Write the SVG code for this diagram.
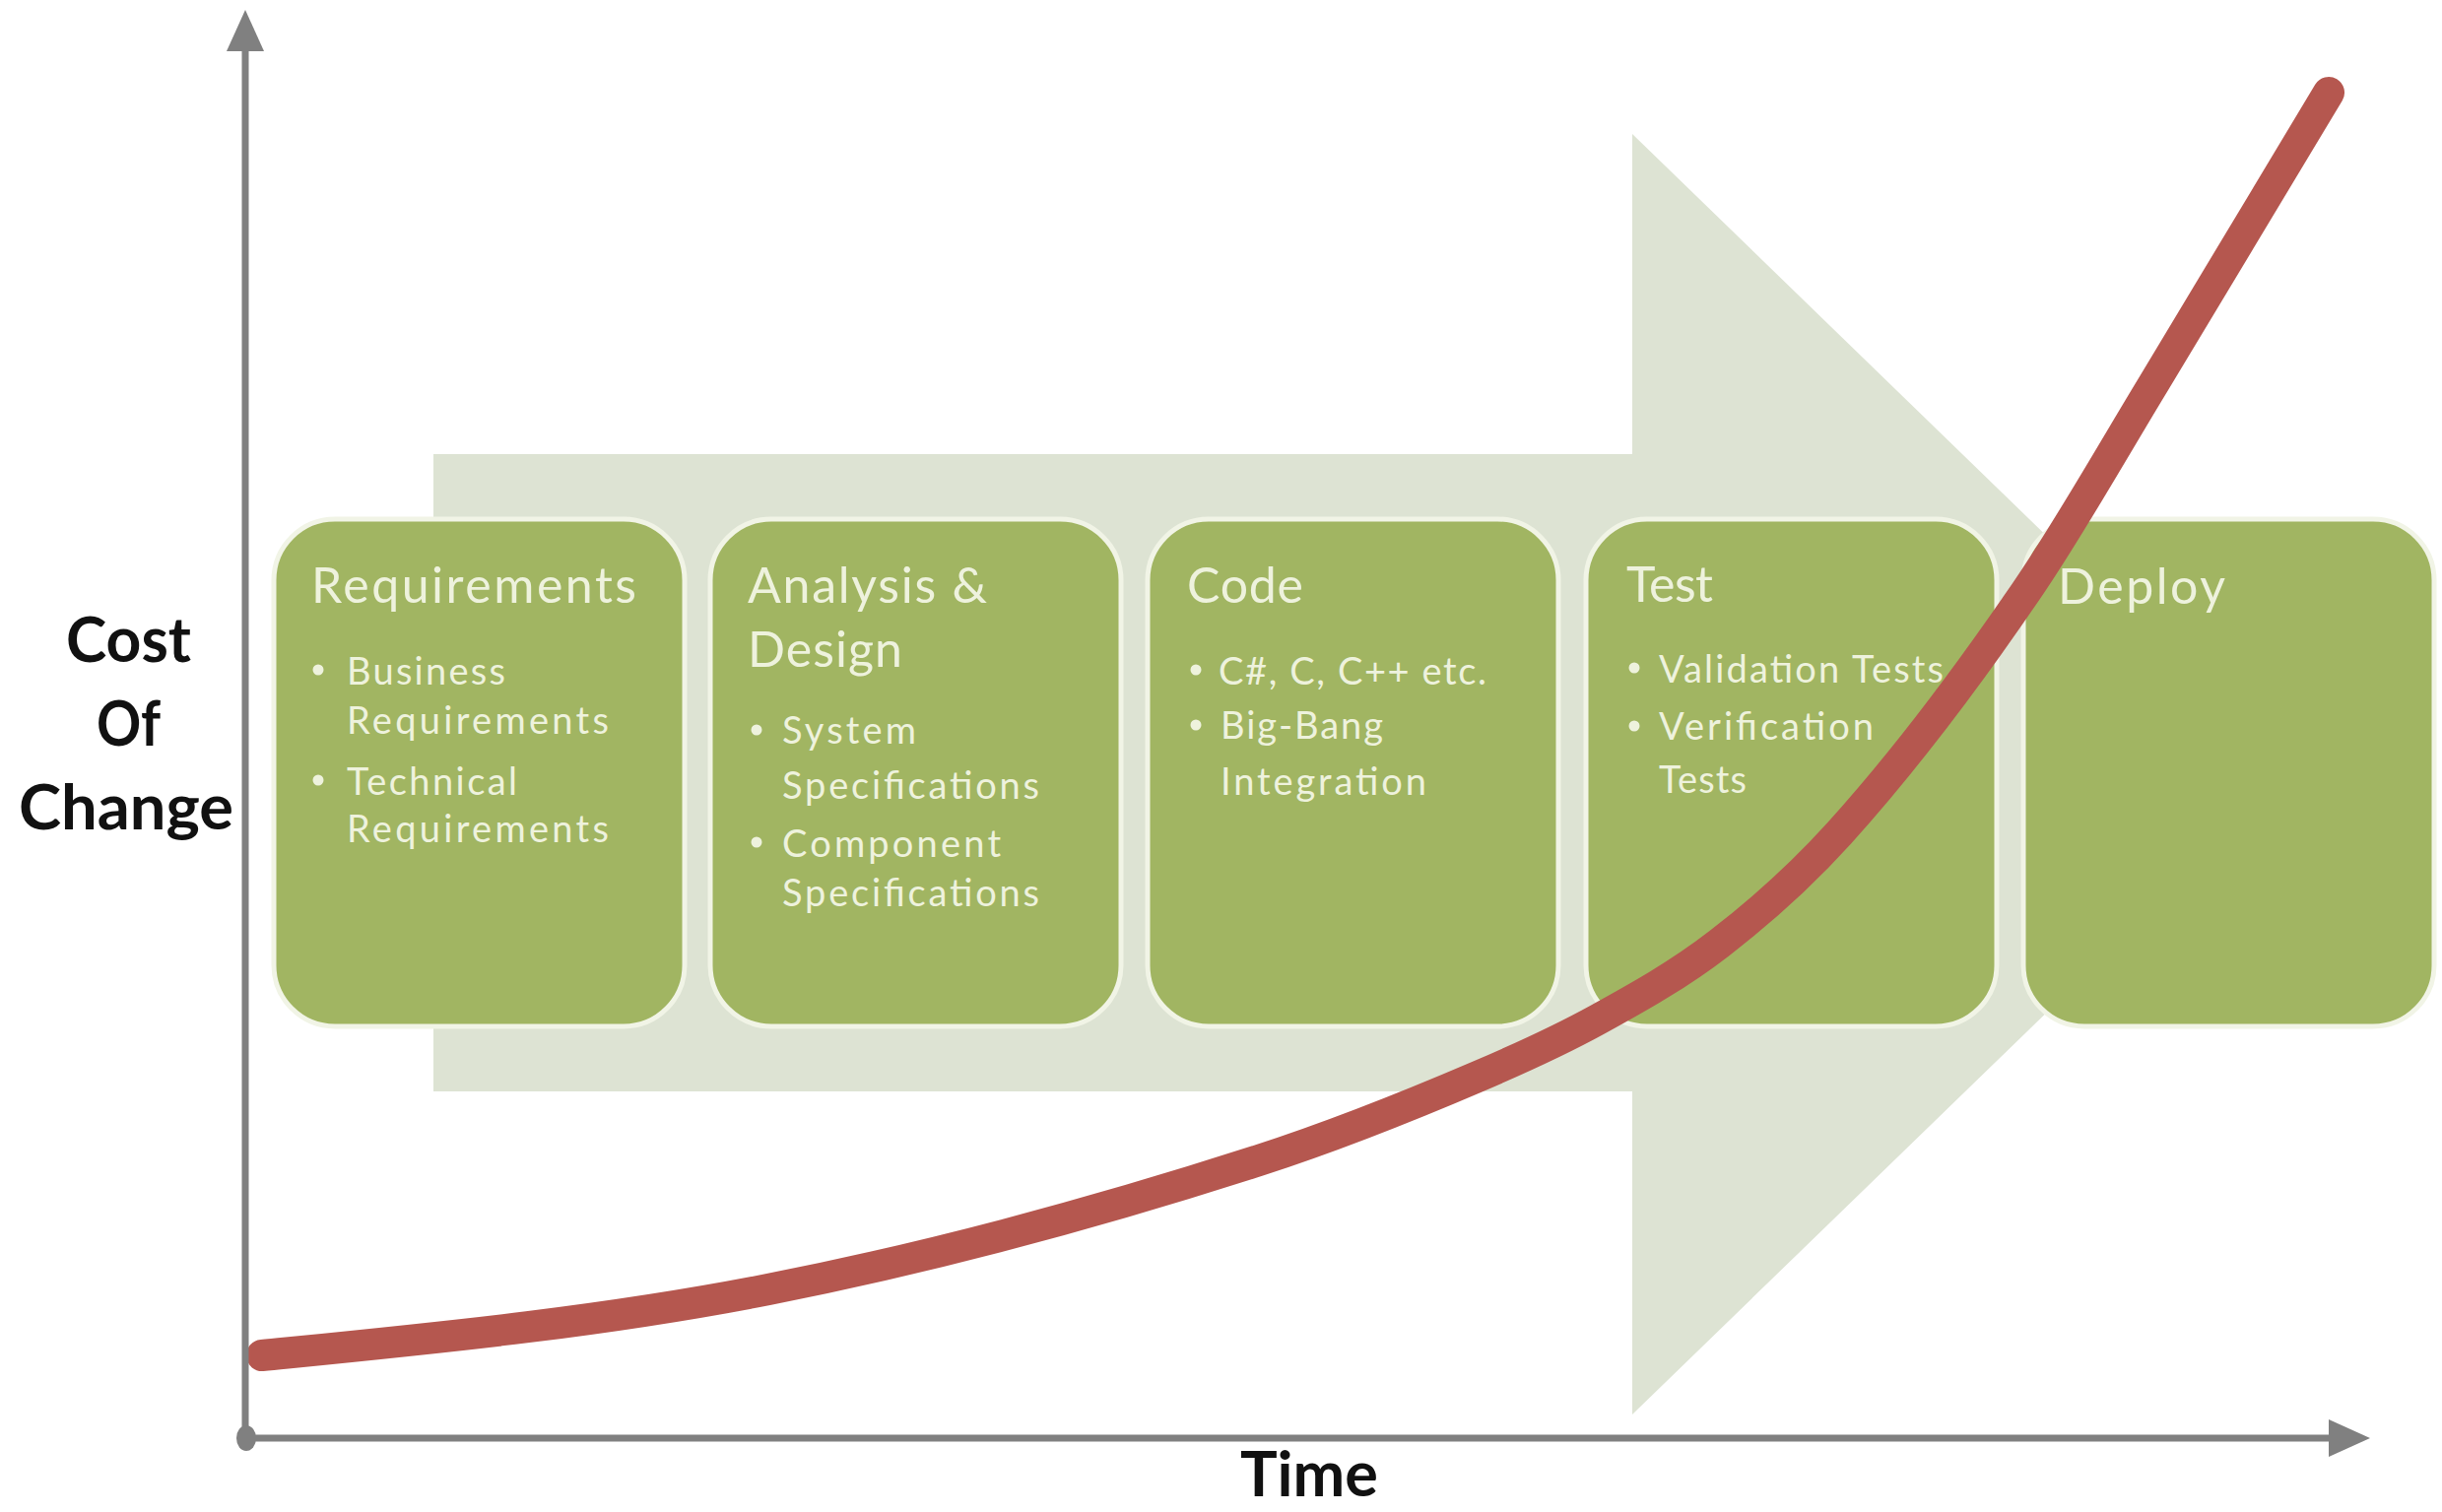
<svg xmlns="http://www.w3.org/2000/svg" width="2479" height="1535" viewBox="0 0 2479 1535">
<style>
.box{fill:#a1b562;stroke:#f1f4e6;stroke-width:5}
.title{font-family:Lato,"Open Sans",sans-serif;font-size:50px;fill:#eef2dd}
.item{font-family:Lato,"Open Sans",sans-serif;font-size:38px;fill:#eef2dd}
.dot{fill:#eef2dd}
.axis{stroke:#808080;stroke-width:7;fill:none}
.label{font-family:Lato,"Open Sans",sans-serif;font-weight:bold;font-size:64px;fill:#111111}
</style>
<defs>
<marker id="ah" viewBox="0 -19 42 38" refX="0" refY="0" markerWidth="42" markerHeight="38" markerUnits="userSpaceOnUse" orient="auto">
<path d="M0,-19 L42,0 L0,19 z" fill="#808080"/>
</marker>
</defs>
<rect width="2479" height="1535" fill="#ffffff"/>
<g id="process-arrow">
<path d="M440,461 L1657,461 L1657,136 L2327,786 L1657,1436 L1657,1108 L440,1108 z" fill="#dde3d3"/>
</g>
<g id="requirements">
<rect class="box" x="278" y="527" width="417" height="515" rx="62"/>
<text class="title" x="316" y="612" textLength="330">Requirements</text>
<circle class="dot" cx="323" cy="680" r="5.5"/>
<text class="item" x="352" y="695" textLength="161">Business</text>
<text class="item" x="352" y="745" textLength="266">Requirements</text>
<circle class="dot" cx="323" cy="792" r="5.5"/>
<text class="item" x="352" y="807" textLength="173">Technical</text>
<text class="item" x="352" y="855" textLength="266">Requirements</text>
</g>
<g id="analysis-design">
<rect class="box" x="721" y="527" width="417" height="515" rx="62"/>
<text class="title" x="759" y="612" textLength="243">Analysis &amp;</text>
<text class="title" x="759" y="677" textLength="157">Design</text>
<circle class="dot" cx="768" cy="741" r="5.5"/>
<text class="item" x="794" y="755" textLength="136">System</text>
<text class="item" x="794" y="811" textLength="261">Specifications</text>
<circle class="dot" cx="768" cy="855" r="5.5"/>
<text class="item" x="794" y="870" textLength="222">Component</text>
<text class="item" x="794" y="920" textLength="261">Specifications</text>
</g>
<g id="code">
<rect class="box" x="1165" y="527" width="417" height="515" rx="62"/>
<text class="title" x="1205" y="612" textLength="118">Code</text>
<circle class="dot" cx="1214" cy="680" r="5.5"/>
<text class="item" x="1237" y="695" textLength="272">C#, C, C++ etc.</text>
<circle class="dot" cx="1214" cy="736" r="5.5"/>
<text class="item" x="1239" y="750" textLength="165">Big-Bang</text>
<text class="item" x="1239" y="807" textLength="209">Integration</text>
</g>
<g id="test">
<rect class="box" x="1610" y="527" width="417" height="515" rx="62"/>
<text class="title" x="1651" y="611" textLength="88">Test</text>
<circle class="dot" cx="1659" cy="678" r="5.5"/>
<text class="item" x="1684" y="693" textLength="289">Validation Tests</text>
<circle class="dot" cx="1659" cy="737" r="5.5"/>
<text class="item" x="1684" y="751" textLength="218">Verification</text>
<text class="item" x="1684" y="805" textLength="89">Tests</text>
</g>
<g id="deploy">
<rect class="box" x="2054" y="527" width="417" height="515" rx="62"/>
<text class="title" x="2089" y="613" textLength="170">Deploy</text>
</g>
<g id="cost-curve">
<path d="M266,1376 C437.3,1358.9 608.7,1342.7 780,1309 C946,1276.3 1112,1231.6 1278,1178 C1352,1154.1 1426,1124.7 1500,1093 C1540.7,1075.6 1581.3,1057.4 1622,1035 C1663,1012.4 1704,989.7 1745,958 C1785.7,926.6 1826.3,891 1867,846 C1930.3,776 1993.7,692.5 2057,600 C2100,537.2 2143,460.8 2186,390 C2245.3,292.3 2304.7,193.1 2364,94" fill="none" stroke="#b5574f" stroke-width="32" stroke-linecap="round"/>
</g>
<g id="connectors">
<line class="axis" x1="249" y1="1460" x2="249" y2="52" marker-end="url(#ah)"/>
<line class="axis" x1="250" y1="1460" x2="2364" y2="1460" marker-end="url(#ah)"/>
<ellipse cx="250" cy="1460" rx="10" ry="13" fill="#808080"/>
</g>
<g id="axis-labels">
<text class="label" x="67" y="672" textLength="127" lengthAdjust="spacingAndGlyphs">Cost</text>
<text class="label" x="98" y="757" textLength="65" lengthAdjust="spacingAndGlyphs">Of</text>
<text class="label" x="19" y="842" textLength="218" lengthAdjust="spacingAndGlyphs">Change</text>
<text class="label" x="1259" y="1519" font-size="60" textLength="140" lengthAdjust="spacingAndGlyphs">Time</text>
</g>
</svg>
